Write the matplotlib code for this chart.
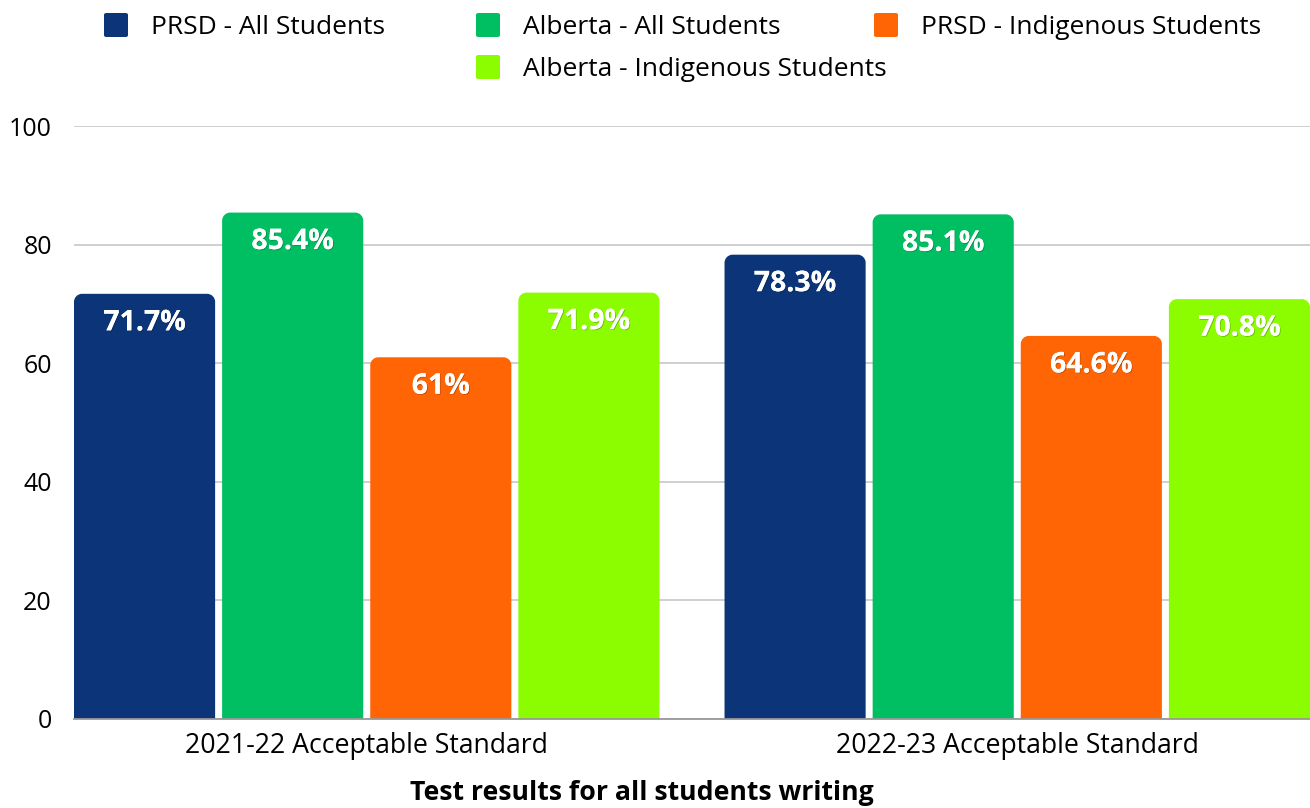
import matplotlib
matplotlib.use("Agg")
import matplotlib.pyplot as plt
import matplotlib.patheffects as pe
from matplotlib.patches import PathPatch, FancyBboxPatch
from matplotlib.path import Path

plt.rcParams["font.family"] = ["Open Sans", "DejaVu Sans"]

categories = ["2021-22 Acceptable Standard", "2022-23 Acceptable Standard"]
series = ["PRSD - All Students", "Alberta - All Students",
          "PRSD - Indigenous Students", "Alberta - Indigenous Students"]
prsd_all = [71.7, 78.3]
alberta_all = [85.4, 85.1]
prsd_indig = [61.0, 64.6]
alberta_indig = [71.9, 70.8]
labels = [["71.7%", "78.3%"], ["85.4%", "85.1%"], ["61%", "64.6%"], ["71.9%", "70.8%"]]
colors = ["#0B3578", "#00BF63", "#FF6505", "#8CFC00"]
values = [prsd_all, alberta_all, prsd_indig, alberta_indig]

W, H = 1310, 808
fig = plt.figure(figsize=(W / 100, H / 100), dpi=100)
ax = fig.add_axes([74 / W, (H - 719) / H, (1310 - 74) / W, (719 - 126) / H])

ax.set_xlim(-0.45, 1.45)
ax.set_ylim(0, 100)

px_x = (1310 - 74) / 1.9      # pixels per x unit
px_y = (719 - 126) / 100.0    # pixels per y unit


def rounded_bar(x0, width, height, color, r=8):
    rx, ry = r / px_x, r / px_y
    x1, y1 = x0 + width, height
    k = 0.55
    verts = [(x0, 0), (x0, y1 - ry),
             (x0, y1 - ry + k * ry), (x0 + rx - k * rx, y1), (x0 + rx, y1),
             (x1 - rx, y1),
             (x1 - rx + k * rx, y1), (x1, y1 - ry + k * ry), (x1, y1 - ry),
             (x1, 0), (x0, 0)]
    codes = [Path.MOVETO, Path.LINETO,
             Path.CURVE4, Path.CURVE4, Path.CURVE4,
             Path.LINETO,
             Path.CURVE4, Path.CURVE4, Path.CURVE4,
             Path.LINETO, Path.CLOSEPOLY]
    ax.add_patch(PathPatch(Path(verts, codes), facecolor=color, edgecolor="none", zorder=3))


group_w = 0.9
gap = 7 / px_x
bar_w = (group_w - 3 * gap) / 4
shadow = [pe.withSimplePatchShadow(offset=(0.6, -0.6), shadow_rgbFace="black", alpha=0.25), pe.Normal()]

for i, cat in enumerate(categories):
    start = i - group_w / 2
    for j, vals in enumerate(values):
        x0 = start + j * (bar_w + gap)
        rounded_bar(x0, bar_w, vals[i], colors[j])
        ax.text(x0 + bar_w / 2, vals[i] - 29 / px_y, labels[j][i], ha="center", va="center",
                color="white", fontsize=20.5, fontweight="bold", zorder=5, path_effects=shadow)

ax.set_yticks([0, 20, 40, 60, 80, 100])
ax.set_xticks(range(len(categories)))
ax.set_xticklabels(categories)
ax.tick_params(axis="y", length=0, pad=16, labelsize=18)
ax.tick_params(axis="x", length=0, pad=9, labelsize=19.2)
ax.grid(axis="y", color="#cccccc", linewidth=1.3, zorder=0)
for s in ["top", "right", "left"]:
    ax.spines[s].set_visible(False)
ax.spines["bottom"].set_color("#999999")
ax.spines["bottom"].set_linewidth(1.3)
ax.spines["bottom"].set_zorder(4)
fig.text(642 / W, (H - 793) / H, "Test results for all students writing",
         ha="center", va="center", fontsize=19.2, fontweight="bold")

# legend laid out the way the source chart does it (last row centred)
legend_pos = [(104, 25), (476, 25), (874, 25), (476, 67)]
for (lx, ly), name, c in zip(legend_pos, series, colors):
    fig.patches.append(FancyBboxPatch((lx / W, (H - ly - 12) / H), 24 / W, 24 / H,
                                      boxstyle="round,pad=0,rounding_size=0.002",
                                      transform=fig.transFigure, facecolor=c, edgecolor="none"))
    fig.text((lx + 47) / W, (H - ly - 2) / H, name, ha="left", va="center", fontsize=19)

fig.savefig("out.png", dpi=100)
